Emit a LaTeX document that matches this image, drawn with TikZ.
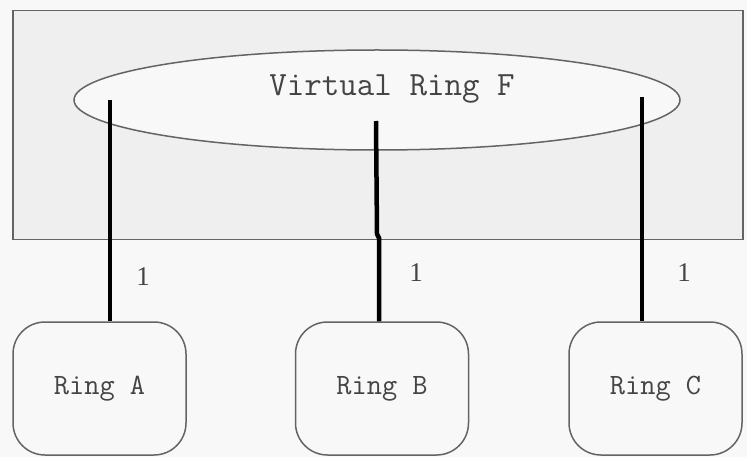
\documentclass[tikz,border=0pt]{standalone}
\usepackage{fontspec}
\newfontfamily\labelserif{Liberation Serif}
\usetikzlibrary{shapes.geometric}
\definecolor{bgc}{HTML}{F8F8F8}
\definecolor{panelc}{HTML}{EFEFEF}
\definecolor{edgec}{HTML}{646464}
\definecolor{txtc}{HTML}{444444}
\tikzset{
  panelbox/.style={draw=edgec, line width=1.5pt, fill=panelc, inner sep=0pt, anchor=north west},
  ringov/.style={ellipse, draw=edgec, line width=1.5pt, fill=bgc, inner sep=0pt},
  ringbox/.style={draw=edgec, line width=1.5pt, rounded corners=32pt, fill=bgc, inner sep=0pt,
                  minimum width=173pt, minimum height=133pt, text=txtc,
                  font=\ttfamily\fontsize{29.5pt}{32pt}\selectfont},
  titletext/.style={text=txtc, inner sep=0pt, font=\ttfamily\fontsize{34pt}{38pt}\selectfont},
  onelbl/.style={text=txtc, inner sep=0pt, font=\labelserif\fontsize{27pt}{30pt}\selectfont},
  link/.style={black, line width=4.5pt}
}
\begin{document}
\begin{tikzpicture}[x=1pt,y=-1pt]
\fill[bgc] (0,0) rectangle (747,457);
\useasboundingbox (0,0) rectangle (747,457);
\node[panelbox, minimum width=730pt, minimum height=229pt] (panel) at (12,10) {};
\node[ringov, minimum width=606pt, minimum height=100pt] (vr) at (377,100) {};
\node[titletext] (vrt) at (392,89) {Virtual Ring F};
\node[ringbox] (ra) at (99.5,388.5) {Ring A};
\node[ringbox] (rb) at (382,388.5) {Ring B};
\node[ringbox] (rc) at (655.5,388.5) {Ring C};
\coordinate (ta) at (110,100);
\coordinate (tb) at (376,121);
\coordinate (kb) at (377,234);
\coordinate (jb) at (379,238);
\coordinate (tc) at (642,97);
\draw[link] (ta) -- (ta |- ra.north);
\draw[link] (tb) -- (kb) -- (jb) -- (jb |- rb.north);
\draw[link] (tc) -- (tc |- rc.north);
\node[onelbl] (la) at (143,277) {1};
\node[onelbl] (lb) at (416,273) {1};
\node[onelbl] (lc) at (684,273) {1};
\end{tikzpicture}
\end{document}
